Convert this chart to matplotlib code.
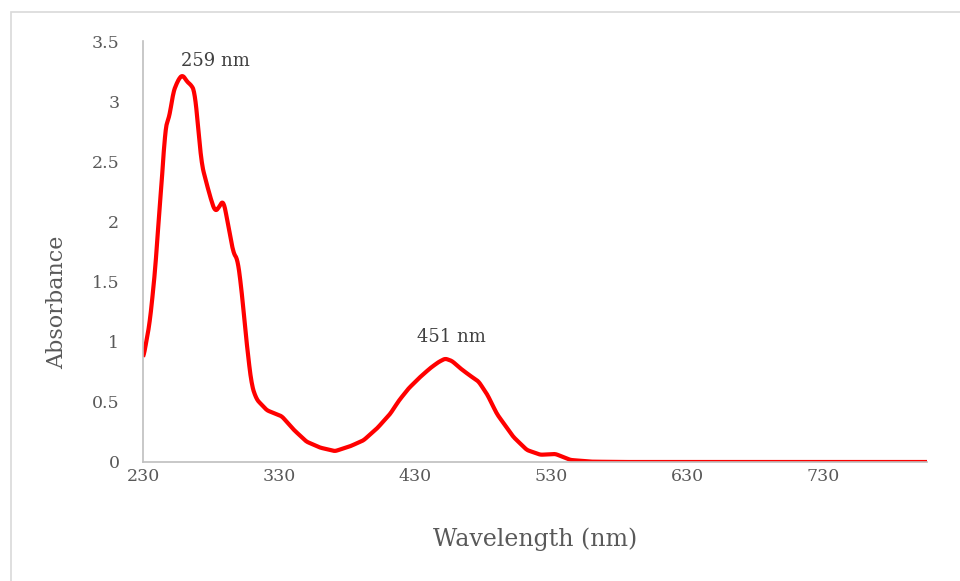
import matplotlib.pyplot as plt
from matplotlib.patches import Rectangle
import numpy as np

wavelength = [230, 235, 239, 242, 245, 246, 250, 252, 256, 259, 262.5, 265.7, 268,
              270.7, 273, 276.6, 280, 283, 286, 289, 292.8, 296.5, 299.5, 302.7,
              305, 307.5, 310, 313.5, 321, 332, 340.6, 350, 360, 371, 382, 392,
              402, 411.6, 418, 425, 433, 441, 447, 452, 457, 463, 470, 476.5, 483,
              490, 502, 512, 522, 533, 544, 559, 580, 620, 680, 740, 806]
absorbance = [0.85, 1.16, 1.60, 2.09, 2.51, 2.76, 2.90, 3.07, 3.18, 3.22, 3.16, 3.13,
              3.08, 2.76, 2.48, 2.32, 2.18, 2.08, 2.12, 2.18, 1.96, 1.73, 1.69, 1.40,
              1.12, 0.85, 0.63, 0.52, 0.43, 0.38, 0.27, 0.17, 0.12, 0.09, 0.13, 0.18,
              0.28, 0.40, 0.51, 0.61, 0.70, 0.78, 0.83, 0.86, 0.84, 0.78, 0.72, 0.67,
              0.56, 0.40, 0.21, 0.10, 0.06, 0.067, 0.017, 0.003, 0.0, 0.0, 0.0, 0.0,
              0.0]

peak_labels = ["259 nm", "451 nm"]
peak_pos = [(258, 3.33), (456.5, 1.04)]
peak_align = ["left", "center"]

x_ticks = [230, 330, 430, 530, 630, 730]
y_ticks = [0, 0.5, 1, 1.5, 2, 2.5, 3, 3.5]

wl = np.array(wavelength)
ab = np.array(absorbance)
xs = np.linspace(wl[0], wl[-1], 2000)
ys = np.interp(xs, wl, ab)
k = np.ones(11) / 11
ys_s = np.convolve(np.pad(ys, 5, mode='edge'), k, mode='valid')

plt.rcParams['font.family'] = ['DejaVu Serif']
grey = '#595959'

fig = plt.figure(figsize=(9.6, 5.81), dpi=100)
fig.patches.append(Rectangle((11 / 960, -0.1), 1.2, 1 - 12 / 581 + 0.1,
                             transform=fig.transFigure, fill=False,
                             edgecolor='#d9d9d9', linewidth=1.2))
ax = fig.add_axes([143 / 960, 1 - 462 / 581, (927 - 143) / 960, (462 - 41) / 581])

ax.plot(xs, ys_s, color='#ff0000', linewidth=3.0, solid_capstyle='butt')

for lab, (px, py), ha in zip(peak_labels, peak_pos, peak_align):
    ax.text(px, py, lab, ha=ha, va='center', fontsize=13, color='#404040')

ax.set_xlim(230, 806)
ax.set_ylim(0, 3.5)
ax.set_xticks(x_ticks)
ax.set_yticks(y_ticks)
ax.set_yticklabels(['%g' % v for v in y_ticks])
ax.tick_params(length=0, labelsize=12.5, labelcolor=grey)
ax.tick_params(axis='x', pad=4)
ax.tick_params(axis='y', pad=17)

for s in ['top', 'right']:
    ax.spines[s].set_visible(False)
for s in ['left', 'bottom']:
    ax.spines[s].set_color('#bfbfbf')
    ax.spines[s].set_linewidth(1.2)

ax.set_xlabel('Wavelength (nm)', fontsize=17, color=grey, labelpad=31)
ax.set_ylabel('Absorbance', fontsize=16, color=grey)
ax.yaxis.set_label_coords(-0.096, 0.38)

fig.savefig('out.png', dpi=100)
